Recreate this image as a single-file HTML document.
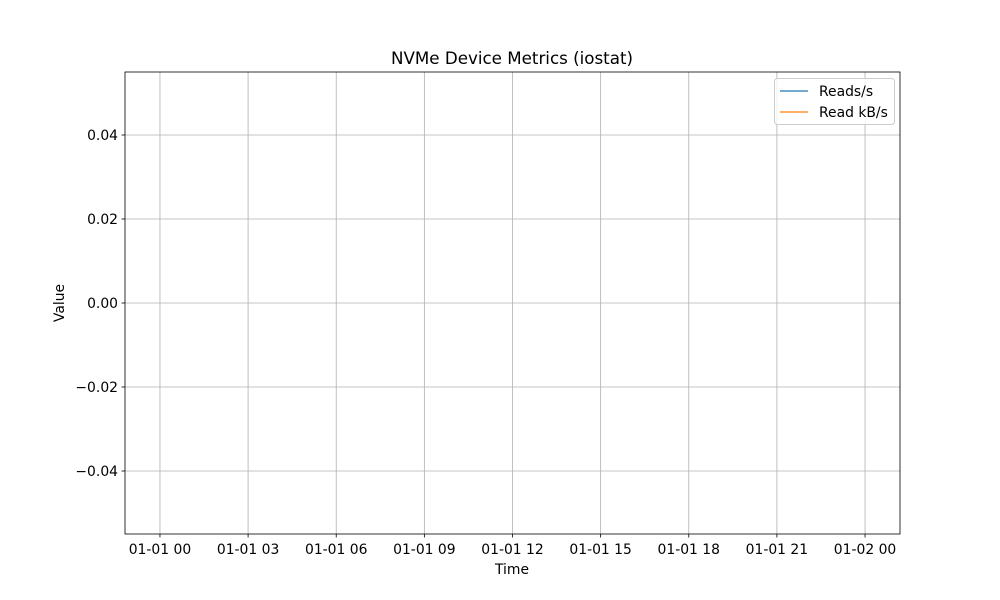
<!DOCTYPE html>
<html><head><meta charset="utf-8"><style>
html,body{margin:0;padding:0;background:#fff;}
svg{display:block;font-family:"DejaVu Sans","Liberation Sans",sans-serif;}
</style></head><body>
<svg id="chart" width="1000" height="600" viewBox="0 0 1000 600">
<rect width="1000" height="600" fill="#fff"/>
<g id="grid"></g>
<g id="series"></g>
<rect x="125" y="72" width="775" height="462" fill="none" stroke="#000" stroke-width="0.8"/>
<g id="ticks"></g>
<text x="512" y="64" text-anchor="middle" font-size="16.7">NVMe Device Metrics (iostat)</text>
<text x="512" y="574" text-anchor="middle" font-size="13.9">Time</text>
<text x="64" y="303" text-anchor="middle" font-size="13.9" transform="rotate(-90 64 303)">Value</text>
<g>
<rect x="774.5" y="78.5" width="120" height="46" rx="3" fill="#fff" fill-opacity="0.8" stroke="#ccc"/>
<g><line x1="780" y1="91" x2="808" y2="91" stroke="#1f77b4" stroke-width="1.2"/><text x="819" y="96" font-size="13.9">Reads/s</text></g>
<g><line x1="780" y1="112" x2="808" y2="112" stroke="#ff7f0e" stroke-width="1.2"/><text x="819" y="117" font-size="13.9">Read kB/s</text></g>
</g>
</svg>
<script>
const xTickLabels = ["01-01 00","01-01 03","01-01 06","01-01 09","01-01 12","01-01 15","01-01 18","01-01 21","01-02 00"];
const xTickHours = [0,3,6,9,12,15,18,21,24];
const yTicks = [0.04,0.02,0.00,-0.02,-0.04];
const yTickLabels = ["0.04","0.02","0.00","\u22120.02","\u22120.04"];
const timeHours = [];
const readsPerSec = [];
const readKBPerSec = [];
const NS="http://www.w3.org/2000/svg";
const X0=125,X1=900,Y0=72,Y1=534,XMIN=-1.19,XMAX=25.19,YMIN=-0.055,YMAX=0.055;
const xs=h=>X0+(h-XMIN)/(XMAX-XMIN)*(X1-X0);
const ys=v=>Y1-(v-YMIN)/(YMAX-YMIN)*(Y1-Y0);
function mk(t,a,p){const e=document.createElementNS(NS,t);for(const k in a)e.setAttribute(k,a[k]);p.appendChild(e);return e;}
const grid=document.getElementById('grid'),ticks=document.getElementById('ticks'),ser=document.getElementById('series');
xTickHours.forEach((h,i)=>{const x=xs(h);
const g=mk('line',{x1:x,x2:x,y1:Y0,y2:Y1,stroke:'#b0b0b0','stroke-width':0.8},grid);


mk('line',{x1:x,x2:x,y1:Y1,y2:Y1+3.5,stroke:'#000','stroke-width':0.8},ticks);
const t=mk('text',{x:x,y:Y1+20,'text-anchor':'middle','font-size':13.9},ticks);t.textContent=xTickLabels[i];

});
yTicks.forEach((v,i)=>{const y=ys(v);
const g=mk('line',{x1:X0,x2:X1,y1:y,y2:y,stroke:'#b0b0b0','stroke-width':0.8},grid);


mk('line',{x1:X0-3.5,x2:X0,y1:y,y2:y,stroke:'#000','stroke-width':0.8},ticks);
const t=mk('text',{x:X0-7,y:y+5,'text-anchor':'end','font-size':13.9},ticks);t.textContent=yTickLabels[i];

});
[[readsPerSec,'#1f77b4','reads-line'],[readKBPerSec,'#ff7f0e','read-kb-line']].forEach(([vals,c,n])=>{
if(!vals.length)return;
const pts=vals.map((v,i)=>xs(timeHours[i])+','+ys(v)).join(' ');
const p=mk('polyline',{points:pts,fill:'none',stroke:c,'stroke-width':1.5},ser);

});
</script>
</body></html>
